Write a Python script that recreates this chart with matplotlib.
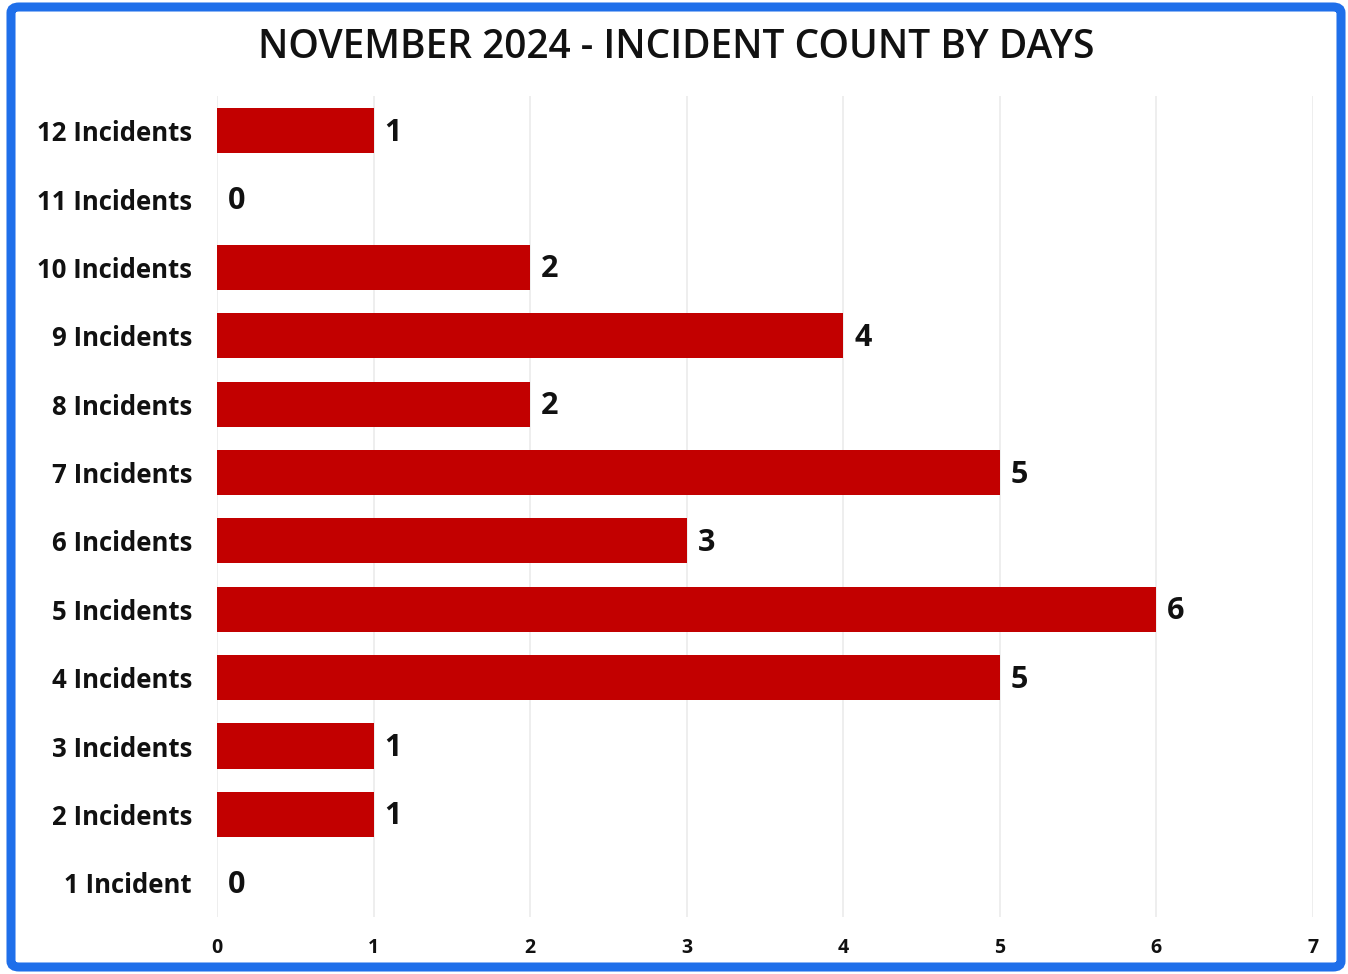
import matplotlib
matplotlib.use("Agg")
import matplotlib.pyplot as plt
from matplotlib.patches import FancyBboxPatch

plt.rcParams["font.family"] = ["Open Sans", "DejaVu Sans"]

categories = ["1 Incident", "2 Incidents", "3 Incidents", "4 Incidents", "5 Incidents",
              "6 Incidents", "7 Incidents", "8 Incidents", "9 Incidents", "10 Incidents",
              "11 Incidents", "12 Incidents"]
days = [0, 1, 1, 5, 6, 3, 5, 2, 4, 2, 0, 1]
x_ticks = [0, 1, 2, 3, 4, 5, 6, 7]

BAR_COLOR = "#C20000"
BORDER_COLOR = "#1F6FEA"

fig = plt.figure(figsize=(13.48, 9.74), dpi=100)
ax = fig.add_axes([0.161, 0.0585, 0.813, 0.8425])

y = list(range(len(categories)))
ax.barh(y, days, height=0.66, color=BAR_COLOR, zorder=3)

for yi, v in zip(y, days):
    ax.text(v + 0.07, yi - 0.03, str(v), va="center", ha="left",
            fontsize=22, fontweight="bold", color="#111111", zorder=4)

ax.set_xlim(0, 7)
ax.set_ylim(-0.5, len(categories) - 0.5)
ax.set_xticks(x_ticks)
ax.set_xticklabels([str(t) for t in x_ticks], fontsize=14, fontweight="bold", color="#111111")
ax.set_yticks(y)
ax.set_yticklabels(categories, fontsize=18.5, fontweight="bold", color="#111111")
ax.tick_params(axis="both", length=0)
ax.tick_params(axis="x", pad=15)
ax.tick_params(axis="y", pad=18)

ax.grid(axis="x", color="#EBEBEB", linewidth=1.2, zorder=0)
ax.grid(axis="y", visible=False)
for s in ax.spines.values():
    s.set_visible(False)

fig.text(0.502, 0.951, "NOVEMBER 2024 - INCIDENT COUNT BY DAYS", ha="center", va="center",
         fontsize=28, fontweight="semibold", color="#111111")

# blue frame around the whole card
frame = FancyBboxPatch((11 / 1348, 7 / 974), 1330 / 1348, 960 / 974,
                       boxstyle="round,pad=0,rounding_size=0.006",
                       transform=fig.transFigure, fill=False,
                       edgecolor=BORDER_COLOR, linewidth=6.5, zorder=10)
fig.patches.append(frame)

fig.savefig("out.png", dpi=100)
